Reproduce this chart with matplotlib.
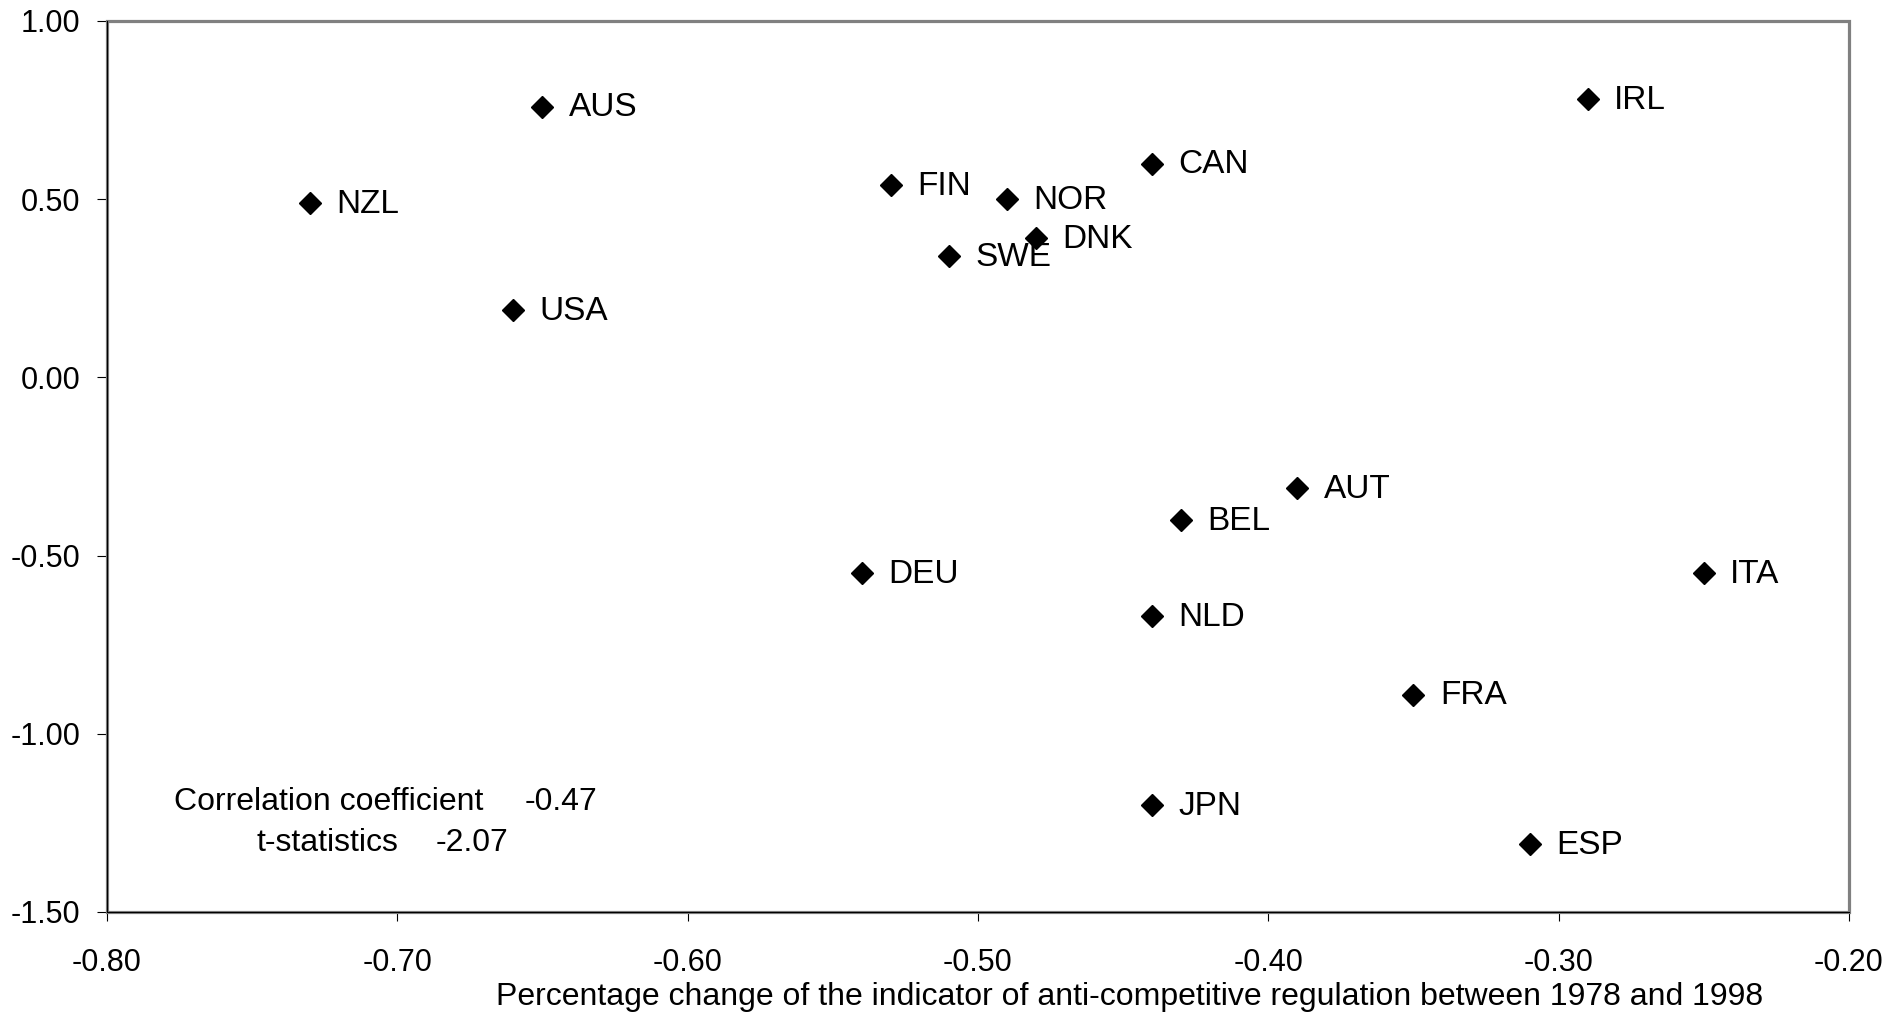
import matplotlib.pyplot as plt
from matplotlib.patches import Rectangle

plt.rcParams['font.family'] = ['Liberation Sans', 'DejaVu Sans']

countries = ['NZL', 'AUS', 'USA', 'FIN', 'NOR', 'DNK', 'SWE', 'CAN', 'IRL',
             'AUT', 'BEL', 'DEU', 'ITA', 'NLD', 'FRA', 'JPN', 'ESP']
reg_change = [-0.73, -0.65, -0.66, -0.53, -0.49, -0.48, -0.51, -0.44, -0.29,
              -0.39, -0.43, -0.54, -0.25, -0.44, -0.35, -0.44, -0.31]
growth = [0.49, 0.76, 0.19, 0.54, 0.50, 0.39, 0.34, 0.60, 0.78,
          -0.31, -0.40, -0.55, -0.55, -0.67, -0.89, -1.20, -1.31]

xticks = [-0.80, -0.70, -0.60, -0.50, -0.40, -0.30, -0.20]
yticks = [1.00, 0.50, 0.00, -0.50, -1.00, -1.50]

fig = plt.figure(figsize=(18.9, 10.14), dpi=100)
ax = fig.add_axes([0.0566, 0.1006, 0.9217, 0.8787])

ax.plot(reg_change, growth, linestyle='none', marker='D', markersize=11.5,
        color='black', zorder=3)
for c, x, y in zip(countries, reg_change, growth):
    ax.annotate(c, (x, y), xytext=(19, -1), textcoords='offset points',
                va='center', ha='left', fontsize=24)

ax.set_xlim(-0.80, -0.20)
ax.set_ylim(-1.50, 1.00)
ax.set_xticks(xticks)
ax.set_yticks(yticks)
ax.set_xticklabels(['%.2f' % v for v in xticks])
ax.set_yticklabels(['%.2f' % v for v in yticks])
ax.tick_params(axis='x', direction='out', length=6.5, width=0.8, pad=19.5,
               labelsize=22, color='black')
ax.tick_params(axis='y', direction='out', length=7, width=0.8, pad=12,
               labelsize=22, color='black')

# plot-area frame in grey, axis lines in black on top
ax.add_patch(Rectangle((0, 0), 1, 1, transform=ax.transAxes, fill=False,
                       edgecolor='#808080', linewidth=2.3, clip_on=False, zorder=2))
ax.spines['top'].set_visible(False)
ax.spines['right'].set_visible(False)
ax.spines['left'].set_color('black')
ax.spines['bottom'].set_color('black')
ax.spines['left'].set_linewidth(0.8)
ax.spines['bottom'].set_linewidth(0.8)
for s in ('left', 'bottom'):
    ax.spines[s].set_zorder(4)

ax.text(174 / 1890, (1014 - 802) / 1014, 'Correlation coefficient', transform=fig.transFigure,
        fontsize=23, va='center', ha='left')
ax.text(525 / 1890, (1014 - 802) / 1014, '-0.47', transform=fig.transFigure,
        fontsize=23, va='center', ha='left')
ax.text(257 / 1890, (1014 - 843) / 1014, 't-statistics', transform=fig.transFigure,
        fontsize=23, va='center', ha='left')
ax.text(436 / 1890, (1014 - 843) / 1014, '-2.07', transform=fig.transFigure,
        fontsize=23, va='center', ha='left')

fig.text(1130 / 1890, (1014 - 997) / 1014,
         'Percentage change of the indicator of anti-competitive regulation between 1978 and 1998',
         fontsize=23, ha='center', va='center')

fig.savefig('out.png', dpi=100, facecolor='white')
